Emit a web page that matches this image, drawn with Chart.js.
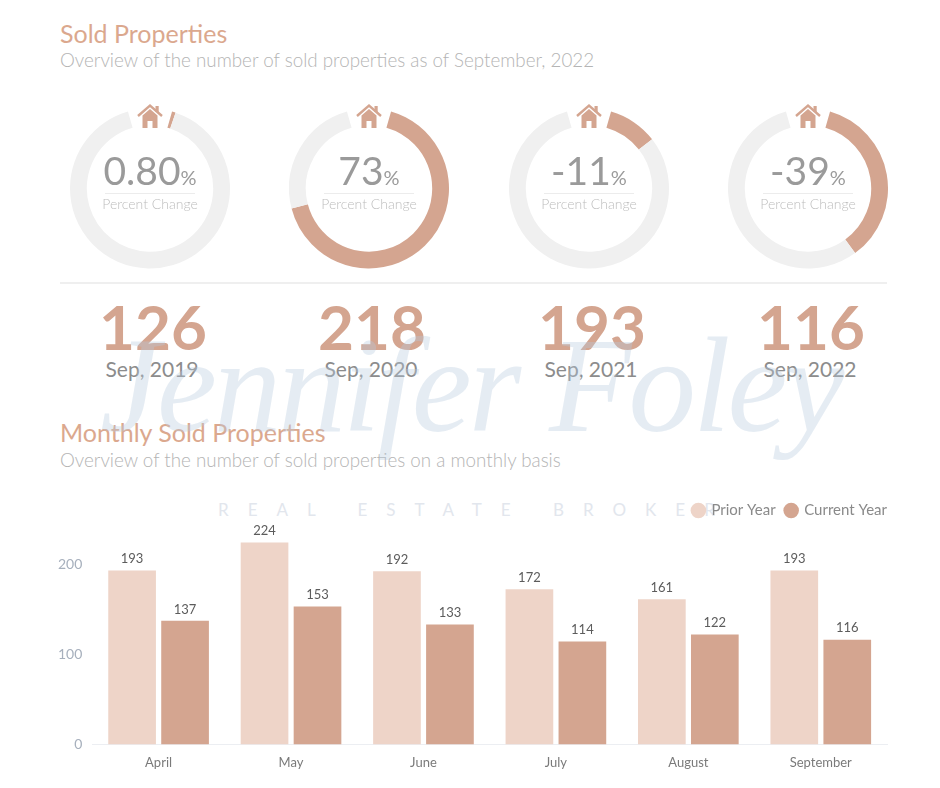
<!DOCTYPE html>
<html>
<head>
    <title>Sold Properties</title>
    <style>
        body {
            margin: 0;
            font-family: Lato, "Open Sans", sans-serif;
            background: #fff;
        }
        .page {
            position: relative;
            width: 940px;
            height: 788px;
            overflow: hidden;
        }
        .abs {
            position: absolute;
            line-height: 1;
            white-space: nowrap;
        }
        .title {
            left: 60px;
            font-size: 25px;
            color: #dba88e;
        }
        .subtitle {
            left: 60px;
            font-size: 18.8px;
            font-weight: 300;
            color: #b4b4b4;
        }
        .ring {
            position: absolute;
            width: 160px;
            height: 160px;
        }
        .center-text {
            width: 160px;
            text-align: center;
        }
        .pct {
            font-size: 39px;
            color: #9a9a9a;
        }
        .pct small {
            font-size: 20px;
        }
        .pct-label {
            font-size: 14px;
            font-weight: 300;
            color: #bdbdbd;
        }
        .divider {
            position: absolute;
            height: 1px;
            background: #ececec;
        }
        .big {
            width: 200px;
            text-align: center;
            font-size: 62px;
            font-weight: 700;
            color: #d4a590;
        }
        .when {
            width: 200px;
            text-align: center;
            font-size: 21px;
            color: #8c8c8c;
        }
        .watermark {
            left: 100px;
            top: 318px;
            font-family: "Liberation Serif", serif;
            font-style: italic;
            font-size: 135px;
            color: rgba(184, 201, 222, 0.36);
            letter-spacing: -3px;
            pointer-events: none;
            z-index: 5;
        }
        .broker {
            left: 218px;
            top: 501px;
            font-size: 17px;
            color: #e2e6ed;
            letter-spacing: 19px;
        }
        #barBox {
            position: absolute;
            left: 48px;
            top: 493px;
            width: 847px;
            height: 285px;
        }
    </style>
</head>
<body>
<div class="page" id="page">
    <div class="abs title" style="top:21px">Sold Properties</div>
    <div class="abs subtitle" style="top:51px">Overview of the number of sold properties as of September, 2022</div>

    <div class="divider" style="left:60px; top:282px; width:827px; height:2px; background:#efefef"></div>

    <div class="abs title" style="top:420px">Monthly Sold Properties</div>
    <div class="abs subtitle" style="top:451px">Overview of the number of sold properties on a monthly basis</div>

    <div class="abs broker">REAL ESTATE BROKER</div>
    <div id="barBox"><canvas id="barChart"></canvas></div>

    <div class="abs watermark">Jennifer Foley</div>
</div>

<script src="https://cdn.jsdelivr.net/npm/chart.js"></script>
<script>
    // yearly snapshot (September of each year)
    const periods = ['Sep, 2019', 'Sep, 2020', 'Sep, 2021', 'Sep, 2022'];
    const soldCounts = [126, 218, 193, 116];
    const pctChange = [0.80, 73, -11, -39];
    const pctText = ['0.80', '73', '-11', '-39'];

    // monthly comparison
    const months = ['April', 'May', 'June', 'July', 'August', 'September'];
    const priorYear = [193, 224, 192, 172, 161, 193];
    const currentYear = [137, 153, 133, 114, 122, 116];
    const yTicks = [0, 100, 200];

    const ringCenters = [150, 369, 589, 808];
    const accent = '#d4a590';
    const light = '#eed4c8';

    Chart.defaults.font.family = 'Lato, "Open Sans", sans-serif';

    const page = document.getElementById('page');

    function el(tag, cls, style, html) {
        const d = document.createElement(tag);
        d.className = cls;
        d.style.cssText = style;
        if (html !== undefined) d.innerHTML = html;
        page.appendChild(d);
        return d;
    }

    const houseSvg = '<svg width="28" height="26" viewBox="0 0 28 26">' +
        '<polyline points="2,13 14,2.5 26,13" fill="none" stroke="' + accent + '" stroke-width="2.4" stroke-linejoin="miter"/>' +
        '<rect x="19.5" y="3" width="3.2" height="6" fill="' + accent + '"/>' +
        '<path d="M6.5,12.5 L14,6 L21.5,12.5 V25 H16.5 V18 H11.5 V25 H6.5 Z" fill="' + accent + '"/>' +
        '</svg>';

    periods.forEach((p, i) => {
        const cx = ringCenters[i];

        const box = el('div', 'ring', 'left:' + (cx - 80) + 'px; top:110px');
        const cv = document.createElement('canvas');
        box.appendChild(cv);

        const share = Math.min(Math.abs(pctChange[i]), 100);
        new Chart(cv, {
            type: 'doughnut',
            data: {
                labels: ['Change', 'Rest'],
                datasets: [{
                    data: [share, 100 - share],
                    backgroundColor: [accent, '#f0f0f0'],
                    borderWidth: 0,
                    hoverOffset: 0
                }]
            },
            options: {
                responsive: true,
                maintainAspectRatio: false,
                animation: false,
                cutout: '79%',
                rotation: 16,
                circumference: 328,
                plugins: {
                    legend: { display: false },
                    tooltip: { enabled: false }
                }
            }
        });

        el('div', 'abs', 'left:' + (cx - 14) + 'px; top:103px', houseSvg);
        el('div', 'abs center-text pct', 'left:' + (cx - 80) + 'px; top:151px', pctText[i] + '<small>%</small>');
        el('div', 'divider', 'left:' + (cx - 45) + 'px; top:193px; width:90px');
        el('div', 'abs center-text pct-label', 'left:' + (cx - 80) + 'px; top:197px', 'Percent Change');

        el('div', 'abs big', 'left:' + (cx + 3 - 100) + 'px; top:295px', soldCounts[i]);
        el('div', 'abs when', 'left:' + (cx + 2 - 100) + 'px; top:358px', p);
    });

    // value labels above each bar
    const barValues = {
        id: 'barValues',
        afterDatasetsDraw(chart) {
            const ctx = chart.ctx;
            ctx.save();
            ctx.font = '13px Lato, sans-serif';
            ctx.fillStyle = '#5c5c5c';
            ctx.textAlign = 'center';
            ctx.textBaseline = 'bottom';
            chart.data.datasets.forEach((ds, di) => {
                chart.getDatasetMeta(di).data.forEach((bar, j) => {
                    ctx.fillText(ds.data[j], bar.x, bar.y - 5);
                });
            });
            ctx.restore();
        }
    };

    // nudge the legend a little further right than the plot edge
    const legendShift = {
        id: 'legendShift',
        afterLayout(chart) {
            chart.legend.left += 10;
            chart.legend.right += 10;
        }
    };

    new Chart(document.getElementById('barChart'), {
        type: 'bar',
        data: {
            labels: months,
            datasets: [
                {
                    label: 'Prior Year',
                    data: priorYear,
                    backgroundColor: light,
                    categoryPercentage: 0.8,
                    barPercentage: 0.9
                },
                {
                    label: 'Current Year',
                    data: currentYear,
                    backgroundColor: accent,
                    categoryPercentage: 0.8,
                    barPercentage: 0.9
                }
            ]
        },
        options: {
            responsive: true,
            maintainAspectRatio: false,
            animation: false,
            layout: { padding: { right: 8, bottom: 4 } },
            plugins: {
                legend: {
                    position: 'top',
                    align: 'end',
                    labels: {
                        usePointStyle: true,
                        pointStyle: 'circle',
                        boxWidth: 11,
                        boxHeight: 11,
                        padding: 10,
                        color: '#8a8a8a',
                        font: { size: 15 }
                    }
                },
                tooltip: { enabled: false }
            },
            scales: {
                x: {
                    grid: { display: false },
                    border: { color: '#eceef2' },
                    ticks: { color: '#7a7a7a', font: { size: 13 }, padding: 3 }
                },
                y: {
                    min: 0,
                    max: 240,
                    grid: { display: false, drawTicks: false },
                    border: { display: false },
                    afterBuildTicks: (axis) => {
                        axis.ticks = yTicks.map(v => ({ value: v }));
                    },
                    ticks: { color: '#a7b0bd', font: { size: 14 }, padding: 10 }
                }
            }
        },
        plugins: [barValues, legendShift]
    });
</script>
</body>
</html>
